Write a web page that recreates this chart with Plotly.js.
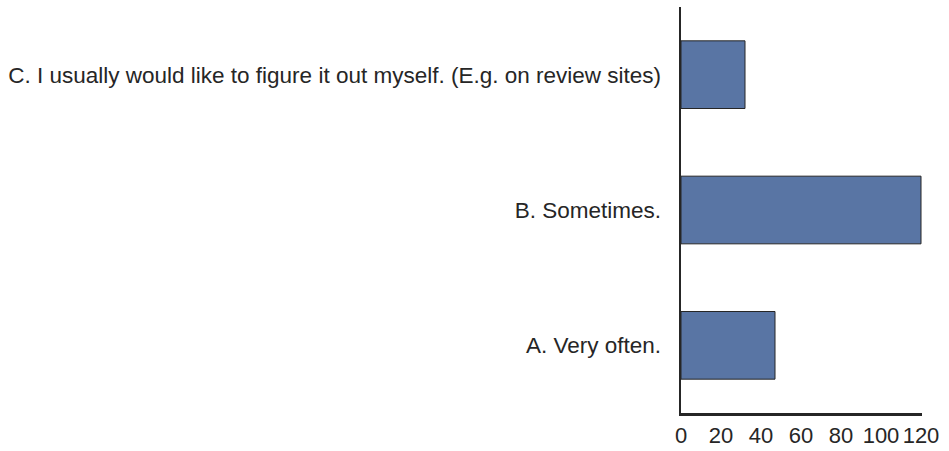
<!DOCTYPE html>
<html><head><meta charset="utf-8">
<script src="https://cdn.plot.ly/plotly-3.0.1.min.js"></script>
<style>html,body{margin:0;padding:0;background:#fff}</style>
</head><body>
<div id="chart" style="width:949px;height:451px"></div>
<script>
const categories = ["A. Very often.", "B. Sometimes.", "C. I usually would like to figure it out myself. (E.g. on review sites)"];
const counts = [47, 120, 32];
const tickVals = [0, 20, 40, 60, 80, 100, 120];

const trace = {
  type: 'bar', orientation: 'h',
  x: counts, y: categories,
  width: 0.5,
  marker: {color: '#5975a4', line: {color: '#262626', width: 1}},
  hoverinfo: 'x+y'
};
const layout = {
  width: 949, height: 451,
  margin: {l: 681, r: 27, t: 7, b: 38, pad: 0},
  paper_bgcolor: '#fff', plot_bgcolor: '#fff',
  font: {family: 'Liberation Sans, Arial, sans-serif', size: 22.5, color: '#262626'},
  showlegend: false,
  xaxis: {
    range: [0, 120.5], tickvals: tickVals, ticktext: tickVals.map(String),
    showgrid: false, zeroline: false, showline: true, linecolor: '#262626', linewidth: 2.5,
    ticks: '', ticklabelstandoff: 1, tickfont: {size: 22, color: '#262626'}
  },
  yaxis: {
    type: 'category', categoryorder: 'array', categoryarray: categories,
    range: [-0.5, 2.5],
    showgrid: false, zeroline: false, showline: true, linecolor: '#262626', linewidth: 2.5,
    ticks: '', ticklabelstandoff: 13, tickfont: {size: 22.5, color: '#262626'}
  }
};
Plotly.newPlot('chart', [trace], layout, {displayModeBar: false, staticPlot: true});
</script>
</body></html>
